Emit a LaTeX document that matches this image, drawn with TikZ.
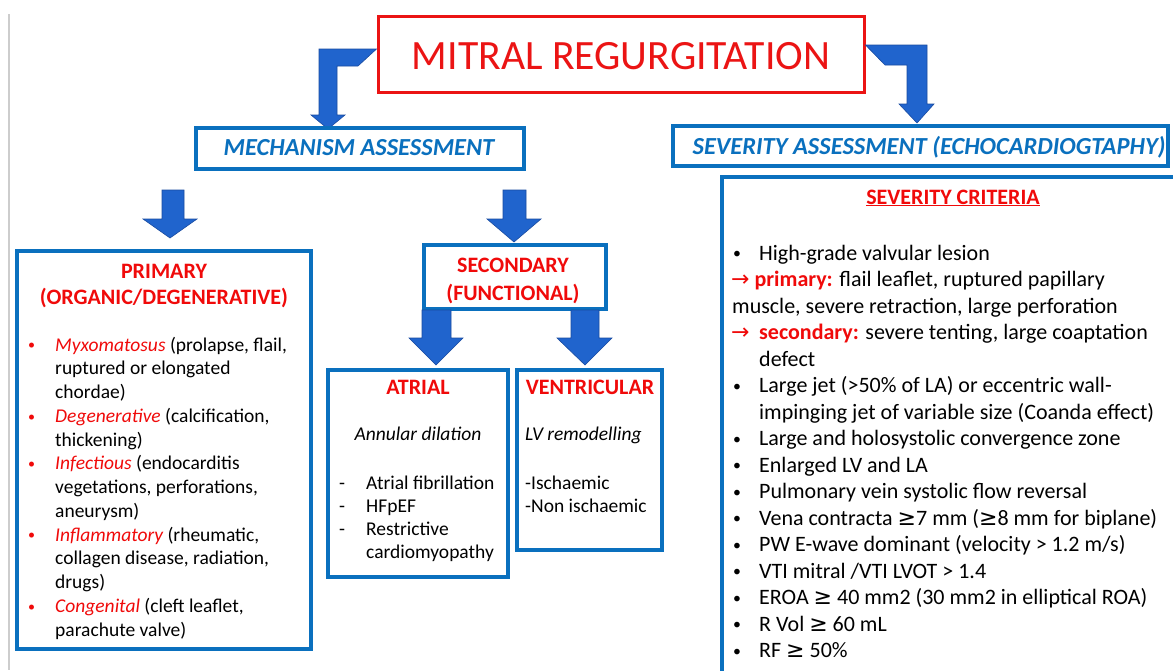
\documentclass[tikz,border=0pt]{standalone}
\usepackage{fontspec}
\setmainfont{Carlito}
\newfontfamily\symfont{DejaVu Sans}
\definecolor{mrred}{RGB}{235,20,20}
\definecolor{txtred}{RGB}{240,10,10}
\definecolor{boxblue}{RGB}{10,112,190}
\definecolor{arrowfill}{RGB}{32,100,205}
\definecolor{arrowline}{RGB}{25,75,160}
\definecolor{edgegray}{RGB}{205,205,205}
\tikzset{
  bluebox/.style={draw=boxblue, line width=3.5pt, fill=white, inner sep=0pt},
  redbox/.style={draw=mrred, line width=3pt, fill=white, inner sep=0pt},
  blockarrow/.style={fill=arrowfill, draw=arrowline, line width=0.6pt, line join=miter},
  bodytxt/.style={inner sep=0pt, anchor=base west, font=\fontsize{19.5}{23.7}\selectfont},
  crittxt/.style={inner sep=0pt, anchor=base west, font=\fontsize{22}{26}\selectfont},
  headtxt/.style={inner sep=0pt, anchor=base, text=txtred, font=\fontsize{22}{26}\selectfont\bfseries},
  bluehead/.style={inner sep=0pt, anchor=base, text=boxblue, font=\fontsize{24.5}{29}\selectfont\bfseries\itshape},
}
\newcommand\smallbul{\raisebox{0.12ex}{\scalebox{0.72}{\textbullet}}}
\newcommand\redb{\textcolor{txtred}{\smallbul}}
\newcommand\gesym{{\symfont\char"2265}}
\newcommand\rarr{{\symfont\fontsize{22}{26}\selectfont\char"2192}}
\begin{document}
\begin{tikzpicture}[x=1pt,y=-1pt]
\useasboundingbox (0,0) rectangle (1173,670);
\clip (0,0) rectangle (1173,670);
\fill[white] (0,0) rectangle (1173,670);
% left gray edge
\draw[edgegray, line width=2pt] (8.5,14) -- (8.5,670);

% title
\node[redbox, minimum width=486pt, minimum height=76pt] (title) at (621,54) {};
\node[inner sep=0pt, anchor=base, text=mrred, font=\fontsize{41.7}{48}\selectfont] (titletxt) at (621,69) {MITRAL REGURGITATION};

% bent arrows from title
\draw[blockarrow] (title.west |- 0,49) -- (319,49) -- (319,115) -- (311,115) -- (328,129) -- (345,115) -- (337,115) -- (337,66) -- (358,66) -- cycle;
\draw[blockarrow] (title.east |- 0,45) -- (927,45) -- (927,104) -- (934,104) -- (917,123) -- (899,104) -- (907,104) -- (907,65) -- (885,65) -- cycle;

% mechanism / severity boxes
\node[bluebox, minimum width=328pt, minimum height=41pt] (mech) at (360,148.5) {};
\node[bluehead] (mechtxt) at (359,155) {MECHANISM ASSESSMENT};
\node[bluebox, minimum width=495pt, minimum height=40pt] (sev) at (920.5,146) {};
\node[bluehead] (sevtxt) at (929,154) {SEVERITY ASSESSMENT (ECHOCARDIOGTAPHY)};

% arrows from mechanism
\draw[blockarrow] (162,190) -- (184,190) -- (184,219) -- (197,219) -- (170,238) -- (143,219) -- (162,219) -- cycle;
\draw[blockarrow] (503,190) -- (526,190) -- (526,219) -- (541,219) -- (514,242) -- (487,219) -- (503,219) -- cycle;

% primary box
\node[bluebox, minimum width=294pt, minimum height=398pt] (prim) at (164,450) {};
\node[headtxt] (primh1) at (164,278) {PRIMARY};
\node[headtxt] (primh2) at (164,304) {(ORGANIC/DEGENERATIVE)};
\node[bodytxt] (pb1) at (28,351) {\redb};
\node[bodytxt] (pb2) at (28,422.25) {\redb};
\node[bodytxt] (pb3) at (28,469.75) {\redb};
\node[bodytxt] (pb4) at (28,541) {\redb};
\node[bodytxt] (pb5) at (28,612.25) {\redb};
\node[bodytxt] (pl1) at (55,351) {\textcolor{txtred}{\itshape Myxomatosus} (prolapse, flail,};
\node[bodytxt] (pl2) at (55,374.75) {ruptured or elongated};
\node[bodytxt] (pl3) at (55,398.5) {chordae)};
\node[bodytxt] (pl4) at (55,422.25) {\textcolor{txtred}{\itshape Degenerative} (calcification,};
\node[bodytxt] (pl5) at (55,446) {thickening)};
\node[bodytxt] (pl6) at (55,469.75) {\textcolor{txtred}{\itshape Infectious} (endocarditis};
\node[bodytxt] (pl7) at (55,493.5) {vegetations, perforations,};
\node[bodytxt] (pl8) at (55,517.25) {aneurysm)};
\node[bodytxt] (pl9) at (55,541) {\textcolor{txtred}{\itshape Inflammatory} (rheumatic,};
\node[bodytxt] (pl10) at (55,564.75) {collagen disease, radiation,};
\node[bodytxt] (pl11) at (55,588.5) {drugs)};
\node[bodytxt] (pl12) at (55,612.25) {\textcolor{txtred}{\itshape Congenital} (cleft leaflet,};
\node[bodytxt] (pl13) at (55,636) {parachute valve)};

% secondary box
\node[bluebox, minimum width=182pt, minimum height=64pt] (sec) at (515,277) {};
\node[headtxt] (sech1) at (513,272) {SECONDARY};
\node[headtxt] (sech2) at (513,300) {(FUNCTIONAL)};

% arrows from secondary
\draw[blockarrow] (422,310) -- (451,310) -- (451,338) -- (463,338) -- (436,365) -- (409,338) -- (422,338) -- cycle;
\draw[blockarrow] (571,310) -- (599,310) -- (599,338) -- (612,338) -- (585,365) -- (557,338) -- (571,338) -- cycle;

% atrial box
\node[bluebox, minimum width=180pt, minimum height=207pt] (atr) at (418,473.5) {};
\node[headtxt] (atrh) at (418,394) {ATRIAL};
\node[inner sep=0pt, anchor=base, font=\fontsize{19.5}{23.7}\selectfont\itshape] (atrsub) at (418,440) {Annular dilation};
\node[bodytxt] (ad1) at (339,489) {-};
\node[bodytxt] (ad2) at (339,512) {-};
\node[bodytxt] (ad3) at (339,535) {-};
\node[bodytxt] (al1) at (366,489) {Atrial fibrillation};
\node[bodytxt] (al2) at (366,512) {HFpEF};
\node[bodytxt] (al3) at (366,535) {Restrictive};
\node[bodytxt] (al4) at (366,558) {cardiomyopathy};

% ventricular box
\node[bluebox, minimum width=145pt, minimum height=180pt] (ven) at (589.5,460) {};
\node[headtxt] (venh) at (590,394) {VENTRICULAR};
\node[bodytxt, font=\fontsize{19.5}{23.7}\selectfont\itshape] (vensub) at (525,440) {LV remodelling};
\node[bodytxt] (vl1) at (525,489) {-Ischaemic};
\node[bodytxt] (vl2) at (525,512) {-Non ischaemic};

% severity criteria box
\node[bluebox, minimum width=480pt, minimum height=520pt] (crit) at (962,437) {};
\node[headtxt] (crith) at (953,204) {\underline{SEVERITY CRITERIA}};
\foreach \i/\t in {0/{High-grade valvular lesion},
  5/{Large jet (>50\% of LA) or eccentric wall-},
  7/{Large and holosystolic convergence zone},
  8/{Enlarged LV and LA},
  9/{Pulmonary vein systolic flow reversal},
  10/{Vena contracta \gesym7 mm (\gesym8 mm for biplane)},
  11/{PW E-wave dominant (velocity > 1.2 m/s)},
  12/{VTI mitral /VTI LVOT > 1.4},
  13/{EROA \gesym\ 40 mm2 (30 mm2 in elliptical ROA)},
  14/{R Vol \gesym\ 60 mL},
  15/{RF \gesym\ 50\%}}{
  \node[crittxt] (cb\i) at (733,260+26.5*\i) {\smallbul};
  \node[crittxt] (ct\i) at (759,260+26.5*\i) {\t};
}
\node[crittxt] (ct1) at (731,286.5) {\textcolor{txtred}{\rarr\ \textbf{primary:}} flail leaflet, ruptured papillary};
\node[crittxt] (ct2) at (732,313) {muscle, severe retraction, large perforation};
\node[crittxt] (ct3) at (731,339.5) {\textcolor{txtred}{\rarr}};
\node[crittxt] (ct3b) at (759,339.5) {\textcolor{txtred}{\textbf{secondary:}} severe tenting, large coaptation};
\node[crittxt] (ct4) at (759,366) {defect};
\node[crittxt] (ct6) at (759,419) {impinging jet of variable size (Coanda effect)};
\end{tikzpicture}
\end{document}
